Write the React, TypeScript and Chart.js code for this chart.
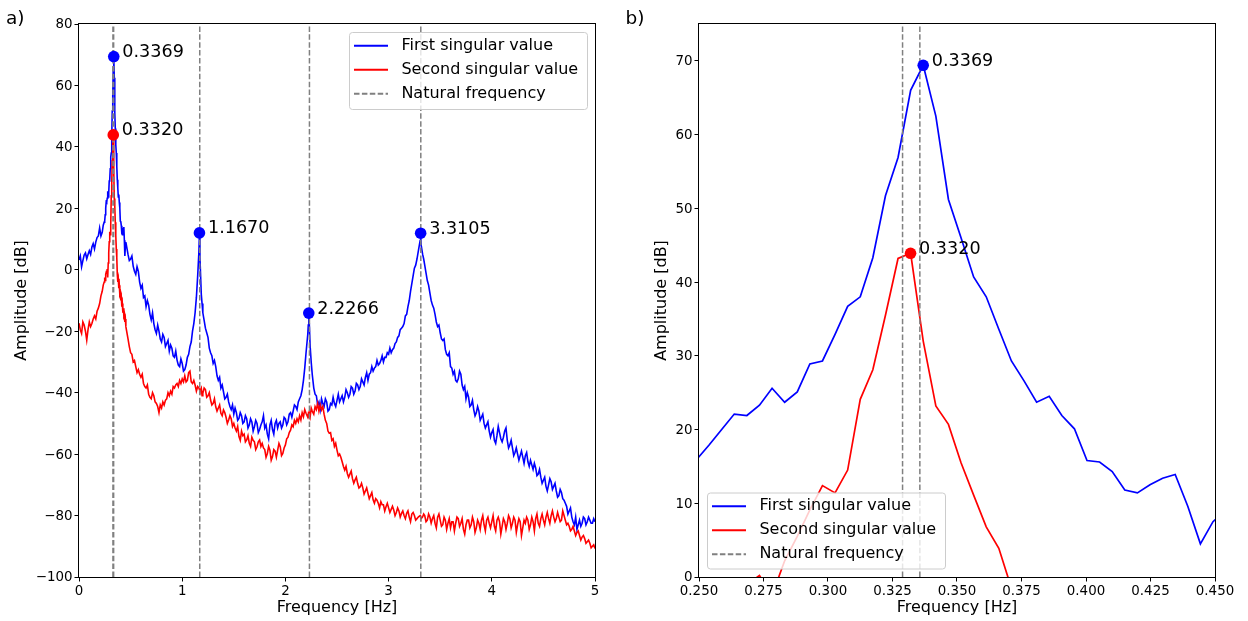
import React, { useEffect, useRef } from 'react';
import { Chart, registerables } from 'chart.js';

Chart.register(...registerables);

const FAMILY = "'DejaVu Sans', 'Liberation Sans', sans-serif";
const BLUE = '#0000ff';
const RED = '#ff0000';
const GRAY = '#808080';

// ---- data (frequency [Hz], amplitude [dB]) ----
const SV1_LOW = [[0, 3.2], [0.0125, 4.5], [0.025, 1.0], [0.0375, 3.0], [0.05, 4.8], [0.0625, 5.5], [0.075, 3.6], [0.0875, 5.0], [0.1, 6.2], [0.1125, 5.0], [0.125, 7.4], [0.1375, 8.5], [0.15, 6.8], [0.1625, 9.0], [0.175, 10.5], [0.1875, 11.0], [0.2, 13.6], [0.2125, 11.0], [0.225, 12.2], [0.235, 14.5]];
const SV2_LOW = [[0, -17.4], [0.0125, -19.5], [0.025, -20.7], [0.0375, -17.0], [0.05, -18.0], [0.0625, -20.0], [0.075, -22.9], [0.0875, -19.5], [0.1, -17.0], [0.1125, -18.5], [0.125, -17.5], [0.1375, -16.0], [0.15, -15.0], [0.1625, -16.0], [0.175, -13.5], [0.1875, -12.5], [0.2, -11.0], [0.2125, -8.5], [0.225, -7.0], [0.235, -5.0]];

const ZOOM_FREQ = [0.24414, 0.24902, 0.25391, 0.25879, 0.26367, 0.26855, 0.27344, 0.27832, 0.2832, 0.28809, 0.29297, 0.29785, 0.30273, 0.30762, 0.3125, 0.31738, 0.32227, 0.32715, 0.33203, 0.33691, 0.3418, 0.34668, 0.35156, 0.35645, 0.36133, 0.36621, 0.37109, 0.37598, 0.38086, 0.38574, 0.39063, 0.39551, 0.40039, 0.40527, 0.41016, 0.41504, 0.41992, 0.4248, 0.42969, 0.43457, 0.43945, 0.44434, 0.44922, 0.4541];
const SV1_ZOOM = [15.5, 15.9, 17.9, 20.0, 22.1, 21.9, 23.3, 25.6, 23.7, 25.1, 28.9, 29.3, 32.9, 36.7, 38.0, 43.3, 51.7, 56.9, 66.0, 69.4, 62.5, 51.2, 46.0, 40.7, 38.0, 33.6, 29.3, 26.6, 23.7, 24.5, 21.9, 20.1, 15.8, 15.6, 14.3, 11.8, 11.4, 12.5, 13.4, 13.9, 9.6, 4.5, 7.5, 9.0];
const SV2_ZOOM = [-4.0, -2.5, -3.5, -1.5, -0.8, -1.0, 0.2, -2.5, 2.2, 5.5, 9.1, 12.4, 11.4, 14.5, 24.1, 28.1, 35.5, 43.2, 43.9, 32.0, 23.2, 20.7, 15.5, 11.1, 6.8, 3.9, -1.5, -4.0, -3.0, -6.0, -5.0, -8.0, -7.5, -10.0, -9.0, -12.0, -11.0, -14.0, -12.5, -15.0, -14.5, -17.0, -16.0, -18.5];

const SV1_HIGH = [[0.475, 5.0], [0.4875, 3.0], [0.5, 3.5], [0.5125, 4.5], [0.525, 1.2], [0.5375, -0.5], [0.55, -1.5], [0.5625, 1.0], [0.575, -0.5], [0.5875, -4.0], [0.6, -6.0], [0.6125, -5.0], [0.625, -9.0], [0.6375, -8.5], [0.65, -12.0], [0.6625, -10.0], [0.675, -11.5], [0.6875, -14.5], [0.7, -16.3], [0.7125, -14.0], [0.725, -17.5], [0.7375, -19.5], [0.75, -20.7], [0.7625, -18.0], [0.775, -20.0], [0.7875, -22.5], [0.8, -23.5], [0.8125, -21.0], [0.825, -22.0], [0.8375, -25.0], [0.85, -24.0], [0.8625, -23.0], [0.875, -26.5], [0.8875, -24.5], [0.9, -25.5], [0.9125, -28.0], [0.925, -28.5], [0.9375, -26.5], [0.95, -29.4], [0.9625, -31.0], [0.975, -31.5], [0.9875, -29.0], [1.0, -30.5], [1.0125, -33.0], [1.025, -32.5], [1.0375, -31.0], [1.05, -28.5], [1.0625, -27.5], [1.075, -25.0], [1.0875, -23.5], [1.1, -20.0], [1.1125, -17.5], [1.125, -14.0], [1.1375, -9.0], [1.15, -2.0], [1.1621, 6.0], [1.167, 12.0], [1.1719, 4.0], [1.185, -8.0], [1.1925, -11.0], [1.2, -14.0], [1.2125, -16.5], [1.225, -19.0], [1.2375, -20.5], [1.25, -22.0], [1.2625, -25.5], [1.275, -27.0], [1.2875, -28.0], [1.3, -30.5], [1.3125, -29.5], [1.325, -31.5], [1.3375, -34.5], [1.35, -36.0], [1.3625, -35.0], [1.375, -38.5], [1.3875, -37.5], [1.4, -39.7], [1.4125, -42.0], [1.425, -41.5], [1.4375, -40.5], [1.45, -43.0], [1.4625, -44.5], [1.475, -45.5], [1.4875, -44.0], [1.5, -47.0], [1.5125, -45.0], [1.525, -46.5], [1.5375, -49.0], [1.55, -48.4], [1.5625, -46.5], [1.575, -47.5], [1.5875, -50.0], [1.6, -49.5], [1.6125, -47.5], [1.625, -48.5], [1.6375, -51.5], [1.65, -50.5], [1.6625, -48.5], [1.675, -49.5], [1.6875, -52.5], [1.7, -51.0], [1.7125, -49.0], [1.725, -50.0], [1.7375, -53.0], [1.75, -52.0], [1.7625, -50.5], [1.775, -49.5], [1.7875, -47.5], [1.8, -51.5], [1.8125, -50.5], [1.825, -53.5], [1.8375, -55.0], [1.85, -50.5], [1.8625, -49.0], [1.875, -52.0], [1.8875, -53.5], [1.9, -50.0], [1.9125, -49.0], [1.925, -51.5], [1.9375, -50.0], [1.95, -49.5], [1.9625, -51.5], [1.975, -50.5], [1.9875, -48.0], [2.0, -48.5], [2.0125, -50.5], [2.025, -49.5], [2.0375, -47.0], [2.05, -46.5], [2.0625, -48.0], [2.075, -46.0], [2.0875, -44.0], [2.1, -44.5], [2.1125, -45.5], [2.125, -43.0], [2.1375, -42.0], [2.15, -41.0], [2.1625, -39.0], [2.175, -36.0], [2.1875, -32.0], [2.2, -27.0], [2.2168, -21.0], [2.2217, -18.0], [2.2266, -14.1], [2.2314, -17.5], [2.24, -25.0], [2.25, -30.0], [2.26, -34.0], [2.275, -38.5], [2.2875, -40.5], [2.3, -41.0], [2.3125, -44.0], [2.325, -43.0], [2.3375, -45.5], [2.35, -42.0], [2.3625, -43.5], [2.375, -44.5], [2.3875, -42.0], [2.4, -43.0], [2.4125, -46.0], [2.425, -45.5], [2.4375, -43.5], [2.45, -44.0], [2.4625, -41.5], [2.475, -43.5], [2.4875, -44.5], [2.5, -42.5], [2.5125, -40.5], [2.525, -43.0], [2.5375, -42.0], [2.55, -41.0], [2.5625, -43.0], [2.575, -41.5], [2.5875, -39.0], [2.6, -40.0], [2.6125, -41.5], [2.625, -40.5], [2.6375, -38.0], [2.65, -38.5], [2.6625, -40.5], [2.675, -39.5], [2.6875, -37.0], [2.7, -37.5], [2.7125, -39.0], [2.725, -38.0], [2.7375, -35.5], [2.75, -36.5], [2.7625, -37.5], [2.775, -35.0], [2.7875, -33.5], [2.8, -36.0], [2.8125, -34.0], [2.825, -33.5], [2.8375, -31.5], [2.85, -33.0], [2.8625, -32.0], [2.875, -31.5], [2.8875, -29.5], [2.9, -31.0], [2.9125, -30.5], [2.925, -29.5], [2.9375, -28.0], [2.95, -30.0], [2.9625, -28.5], [2.975, -28.5], [2.9875, -27.0], [3.0, -27.5], [3.0125, -25.5], [3.025, -27.0], [3.0375, -26.0], [3.05, -25.5], [3.0625, -24.0], [3.075, -23.5], [3.0875, -22.0], [3.1, -21.5], [3.1125, -19.5], [3.125, -19.0], [3.1375, -18.5], [3.15, -17.5], [3.1625, -15.0], [3.175, -14.5], [3.1875, -12.0], [3.2, -10.0], [3.2125, -7.0], [3.225, -4.5], [3.2375, -2.0], [3.25, 0.5], [3.2625, 1.5], [3.275, 3.5], [3.29, 6.5], [3.3057, 9.5], [3.3105, 11.9], [3.3154, 8.0], [3.33, 5.0], [3.34, 3.5], [3.35, 1.5], [3.3625, -1.0], [3.375, -3.5], [3.3875, -5.0], [3.4, -7.5], [3.4125, -10.0], [3.425, -11.5], [3.4375, -12.5], [3.45, -14.5], [3.4625, -17.0], [3.475, -18.5], [3.4875, -18.0], [3.5, -20.5], [3.5125, -22.5], [3.525, -23.0], [3.5375, -22.5], [3.55, -26.0], [3.5625, -27.5], [3.575, -28.0], [3.5875, -27.0], [3.6, -31.5], [3.6125, -32.0], [3.625, -34.0], [3.6375, -33.0], [3.65, -36.0], [3.6625, -36.5], [3.675, -35.5], [3.6875, -33.0], [3.7, -34.0], [3.7125, -37.5], [3.725, -39.0], [3.7375, -38.0], [3.75, -42.0], [3.7625, -40.0], [3.775, -41.5], [3.7875, -44.5], [3.8, -44.0], [3.8125, -42.5], [3.825, -45.5], [3.8375, -47.5], [3.85, -46.5], [3.8625, -44.5], [3.875, -46.0], [3.8875, -49.0], [3.9, -48.0], [3.9125, -47.0], [3.925, -50.0], [3.9375, -51.5], [3.95, -50.5], [3.9625, -49.5], [3.975, -52.5], [3.9875, -54.5], [4.0, -53.0], [4.0125, -52.0], [4.025, -55.5], [4.0375, -56.5], [4.05, -54.0], [4.0625, -51.0], [4.075, -53.0], [4.0875, -55.0], [4.1, -56.0], [4.1125, -54.5], [4.125, -52.5], [4.1375, -51.5], [4.15, -55.5], [4.1625, -58.0], [4.175, -57.0], [4.1875, -55.5], [4.2, -58.0], [4.2125, -60.5], [4.225, -59.5], [4.2375, -58.0], [4.25, -60.0], [4.2625, -62.0], [4.275, -60.5], [4.2875, -59.0], [4.3, -61.0], [4.3125, -63.0], [4.325, -60.5], [4.3375, -59.5], [4.35, -62.5], [4.3625, -64.0], [4.375, -62.0], [4.3875, -63.5], [4.4, -65.0], [4.4125, -63.0], [4.425, -64.5], [4.4375, -67.0], [4.45, -66.5], [4.4625, -65.0], [4.475, -67.5], [4.4875, -69.5], [4.5, -68.5], [4.5125, -67.5], [4.525, -70.5], [4.5375, -72.0], [4.55, -70.0], [4.5625, -68.0], [4.575, -69.0], [4.5875, -71.5], [4.6, -70.5], [4.6125, -69.5], [4.625, -72.0], [4.6375, -74.0], [4.65, -73.5], [4.6625, -71.5], [4.675, -72.5], [4.6875, -74.5], [4.7, -75.0], [4.7125, -76.0], [4.725, -77.0], [4.7375, -79.5], [4.75, -78.5], [4.7625, -77.5], [4.775, -80.5], [4.7875, -82.0], [4.8, -83.0], [4.8125, -80.5], [4.825, -84.5], [4.8375, -83.0], [4.85, -81.5], [4.8625, -83.5], [4.875, -82.5], [4.8875, -80.5], [4.9, -81.0], [4.9125, -83.0], [4.925, -82.0], [4.9375, -80.5], [4.95, -81.5], [4.9625, -82.5], [4.975, -82.5], [4.9875, -81.0], [5.0, -82.0]];

const SV2_HIGH = [[0.475, -22.5], [0.4875, -25.0], [0.5, -27.0], [0.5125, -27.5], [0.525, -30.0], [0.5375, -29.5], [0.55, -31.5], [0.5625, -33.5], [0.575, -32.5], [0.5875, -34.0], [0.6, -35.0], [0.6125, -34.0], [0.625, -37.0], [0.6375, -38.0], [0.65, -38.5], [0.6625, -37.5], [0.675, -40.5], [0.6875, -41.5], [0.7, -42.0], [0.7125, -40.0], [0.725, -41.0], [0.7375, -43.0], [0.75, -43.5], [0.7625, -44.5], [0.775, -46.5], [0.7875, -44.0], [0.8, -45.0], [0.8125, -43.0], [0.825, -44.0], [0.8375, -42.5], [0.85, -42.0], [0.8625, -40.0], [0.875, -41.0], [0.8875, -39.5], [0.9, -40.5], [0.9125, -38.0], [0.925, -38.5], [0.9375, -37.5], [0.95, -37.0], [0.9625, -38.0], [0.975, -36.0], [0.9875, -37.0], [1.0, -35.5], [1.0125, -36.5], [1.025, -34.5], [1.0375, -36.5], [1.05, -36.0], [1.0625, -33.5], [1.075, -33.0], [1.0875, -36.5], [1.1, -37.0], [1.1125, -36.0], [1.125, -37.5], [1.1375, -39.5], [1.15, -38.0], [1.1621, -38.5], [1.167, -39.0], [1.1719, -39.5], [1.185, -38.5], [1.1925, -41.0], [1.2, -40.2], [1.2125, -38.5], [1.225, -39.0], [1.2375, -41.5], [1.25, -41.0], [1.2625, -40.0], [1.275, -42.4], [1.2875, -44.0], [1.3, -43.5], [1.3125, -42.0], [1.325, -44.6], [1.3375, -46.0], [1.35, -45.0], [1.3625, -44.0], [1.375, -46.7], [1.3875, -47.5], [1.4, -45.6], [1.4125, -46.5], [1.425, -48.0], [1.4375, -50.0], [1.45, -48.9], [1.4625, -47.5], [1.475, -48.5], [1.4875, -51.0], [1.5, -50.0], [1.5125, -51.5], [1.525, -52.5], [1.5375, -51.0], [1.55, -54.3], [1.5625, -55.5], [1.575, -52.5], [1.5875, -54.0], [1.6, -53.5], [1.6125, -56.0], [1.625, -55.4], [1.6375, -54.0], [1.65, -56.5], [1.6625, -57.5], [1.675, -54.5], [1.6875, -55.5], [1.7, -56.0], [1.7125, -58.5], [1.725, -57.6], [1.7375, -56.0], [1.75, -55.4], [1.7625, -57.5], [1.775, -56.5], [1.7875, -58.0], [1.8, -58.5], [1.8125, -61.0], [1.825, -59.8], [1.8375, -57.5], [1.85, -58.7], [1.8625, -62.0], [1.875, -60.8], [1.8875, -58.5], [1.9, -59.0], [1.9125, -61.0], [1.925, -58.7], [1.9375, -56.5], [1.95, -57.6], [1.9625, -60.5], [1.975, -59.8], [1.9875, -58.0], [2.0, -57.0], [2.0125, -55.0], [2.025, -54.5], [2.0375, -53.0], [2.05, -52.2], [2.0625, -50.5], [2.075, -51.1], [2.0875, -49.0], [2.1, -50.0], [2.1125, -48.5], [2.125, -49.5], [2.1375, -47.5], [2.15, -48.9], [2.1625, -46.5], [2.175, -47.8], [2.1875, -45.5], [2.2, -46.7], [2.2168, -48.0], [2.2217, -47.0], [2.2266, -47.5], [2.2314, -46.5], [2.24, -47.8], [2.25, -45.0], [2.26, -46.0], [2.275, -47.0], [2.2875, -44.5], [2.3, -45.5], [2.3125, -43.5], [2.325, -46.0], [2.3375, -44.0], [2.35, -45.6], [2.3625, -44.5], [2.375, -47.0], [2.3875, -49.0], [2.4, -50.0], [2.4125, -52.5], [2.425, -53.2], [2.4375, -53.0], [2.45, -55.5], [2.4625, -55.0], [2.475, -57.5], [2.4875, -56.5], [2.5, -58.7], [2.5125, -60.5], [2.525, -60.0], [2.5375, -61.0], [2.55, -62.5], [2.5625, -64.0], [2.575, -65.2], [2.5875, -64.0], [2.6, -66.3], [2.6125, -67.5], [2.625, -66.5], [2.6375, -65.5], [2.65, -68.0], [2.6625, -69.5], [2.675, -68.4], [2.6875, -67.5], [2.7, -69.5], [2.7125, -71.0], [2.725, -70.6], [2.7375, -69.5], [2.75, -71.0], [2.7625, -73.0], [2.775, -72.0], [2.7875, -71.0], [2.8, -72.8], [2.8125, -74.5], [2.825, -73.5], [2.8375, -72.5], [2.85, -74.9], [2.8625, -76.0], [2.875, -74.5], [2.8875, -75.0], [2.9, -76.0], [2.9125, -77.5], [2.925, -75.5], [2.9375, -76.5], [2.95, -76.5], [2.9625, -78.5], [2.975, -77.1], [2.9875, -76.0], [3.0, -77.5], [3.0125, -79.0], [3.025, -78.0], [3.0375, -77.0], [3.05, -78.2], [3.0625, -80.0], [3.075, -79.0], [3.0875, -77.5], [3.1, -78.5], [3.1125, -80.5], [3.125, -79.3], [3.1375, -78.5], [3.15, -80.0], [3.1625, -81.0], [3.175, -79.3], [3.1875, -78.5], [3.2, -80.5], [3.2125, -82.0], [3.225, -79.5], [3.2375, -79.0], [3.25, -80.0], [3.2625, -81.5], [3.275, -81.0], [3.29, -80.4], [3.3057, -80.0], [3.3105, -80.5], [3.3154, -81.0], [3.33, -80.4], [3.34, -79.5], [3.35, -80.0], [3.3625, -82.0], [3.375, -81.5], [3.3875, -79.5], [3.4, -80.5], [3.4125, -82.5], [3.425, -81.0], [3.4375, -80.0], [3.45, -82.5], [3.4625, -84.0], [3.475, -80.5], [3.4875, -79.5], [3.5, -81.5], [3.5125, -83.5], [3.525, -83.0], [3.5375, -80.5], [3.55, -81.5], [3.5625, -84.5], [3.575, -82.5], [3.5875, -81.0], [3.6, -84.0], [3.6125, -82.0], [3.625, -82.0], [3.6375, -85.0], [3.65, -82.5], [3.6625, -80.5], [3.675, -81.0], [3.6875, -83.5], [3.7, -82.5], [3.7125, -81.0], [3.725, -84.5], [3.7375, -86.0], [3.75, -83.0], [3.7625, -81.5], [3.775, -81.5], [3.7875, -84.0], [3.8, -83.0], [3.8125, -80.5], [3.825, -82.0], [3.8375, -85.5], [3.85, -84.0], [3.8625, -81.5], [3.875, -82.5], [3.8875, -84.5], [3.9, -81.5], [3.9125, -80.0], [3.925, -83.0], [3.9375, -85.0], [3.95, -81.5], [3.9625, -80.5], [3.975, -82.5], [3.9875, -84.0], [4.0, -82.0], [4.0125, -80.0], [4.025, -83.5], [4.0375, -85.0], [4.05, -81.5], [4.0625, -80.5], [4.075, -82.0], [4.0875, -86.0], [4.1, -83.5], [4.1125, -81.0], [4.125, -82.0], [4.1375, -84.5], [4.15, -82.5], [4.1625, -80.0], [4.175, -81.0], [4.1875, -84.0], [4.2, -82.5], [4.2125, -80.5], [4.225, -81.5], [4.2375, -85.5], [4.25, -83.0], [4.2625, -81.0], [4.275, -82.0], [4.2875, -86.5], [4.3, -84.0], [4.3125, -81.5], [4.325, -82.5], [4.3375, -80.5], [4.35, -81.5], [4.3625, -84.5], [4.375, -83.0], [4.3875, -80.5], [4.4, -82.0], [4.4125, -85.0], [4.425, -81.0], [4.4375, -79.5], [4.45, -82.5], [4.4625, -83.5], [4.475, -81.0], [4.4875, -79.5], [4.5, -81.5], [4.5125, -83.0], [4.525, -80.5], [4.5375, -79.0], [4.55, -81.0], [4.5625, -82.5], [4.575, -80.0], [4.5875, -78.5], [4.6, -80.5], [4.6125, -82.0], [4.625, -81.0], [4.6375, -79.0], [4.65, -80.5], [4.6625, -82.0], [4.675, -81.5], [4.6875, -78.5], [4.7, -80.0], [4.7125, -81.5], [4.725, -83.0], [4.7375, -82.5], [4.75, -83.5], [4.7625, -85.0], [4.775, -84.5], [4.7875, -83.5], [4.8, -85.0], [4.8125, -86.5], [4.825, -85.5], [4.8375, -85.0], [4.85, -86.5], [4.8625, -88.0], [4.875, -87.0], [4.8875, -86.5], [4.9, -87.5], [4.9125, -89.0], [4.925, -88.5], [4.9375, -88.0], [4.95, -89.0], [4.9625, -90.5], [4.975, -90.0], [4.9875, -89.5], [5.0, -90.7]];

const PEAKS_SV1 = [[0.3369, 69.4], [1.167, 12.0], [2.2266, -14.1], [3.3105, 11.9]];
const PEAK_LABELS_SV1 = ['0.3369', '1.1670', '2.2266', '3.3105'];
const PEAKS_SV2 = [[0.332, 43.9]];
const PEAK_LABELS_SV2 = ['0.3320'];
const NATURAL_FREQ = [0.3289, 0.3356, 1.17, 2.233, 3.312];

const LEGEND_LABELS = ['First singular value', 'Second singular value', 'Natural frequency'];
const PANEL_LABELS = ['a)', 'b)'];
const X_TITLE = 'Frequency [Hz]';
const Y_TITLE = 'Amplitude [dB]';

// ---- helpers ----
const pairs = (list) => list.map(([x, y]) => ({ x, y }));
const zipped = (xs, ys) => xs.map((x, i) => ({ x, y: ys[i] }));
const vlines = (fs, lo, hi) => fs.flatMap((f) => [{ x: f, y: lo }, { x: f, y: hi }, { x: f, y: null }]);
const minus = (s) => String(s).replace('-', '\u2212');

function decorPlugin(cfg) {
  return {
    id: 'decor_' + cfg.key,
    afterDatasetsDraw(chart) {
      const { ctx } = chart;
      const xs = chart.scales.x;
      const ys = chart.scales.y;
      ctx.save();
      ctx.fillStyle = '#000';
      ctx.font = `17.6px ${FAMILY}`;
      ctx.textBaseline = 'alphabetic';
      ctx.textAlign = 'left';
      cfg.annotations.forEach(({ pts, labels }) => {
        pts.forEach(([f, v], i) => {
          const px = xs.getPixelForValue(f);
          const py = ys.getPixelForValue(v);
          ctx.fillText(labels[i], px + 8.5, py + 0.5);
        });
      });
      ctx.restore();
    },
    afterDraw(chart) {
      const { ctx, chartArea } = chart;
      ctx.save();
      ctx.strokeStyle = '#000';
      ctx.lineWidth = 1;
      const l = Math.round(chartArea.left) - 0.5;
      const t = Math.round(chartArea.top) - 0.5;
      const r = Math.round(chartArea.right) + 0.5;
      const b = Math.round(chartArea.bottom) + 0.5;
      ctx.strokeRect(l, t, r - l, b - t);
      const lg = cfg.legend;
      ctx.beginPath();
      ctx.roundRect(lg.x + 0.5, lg.y + 0.5, lg.w, lg.h, 3);
      ctx.fillStyle = 'rgba(255,255,255,0.8)';
      ctx.fill();
      ctx.strokeStyle = '#cccccc';
      ctx.lineWidth = 1;
      ctx.stroke();
      const styles = [
        { color: BLUE, dash: [] },
        { color: RED, dash: [] },
        { color: GRAY, dash: [5.5, 2.4] },
      ];
      styles.forEach((s, i) => {
        const yy = lg.y + 13.7 + i * 24;
        ctx.beginPath();
        ctx.setLineDash(s.dash);
        ctx.strokeStyle = s.color;
        ctx.lineWidth = 2;
        ctx.moveTo(lg.x + 5, yy);
        ctx.lineTo(lg.x + 39, yy);
        ctx.stroke();
        ctx.setLineDash([]);
        ctx.fillStyle = '#000';
        ctx.font = `16px ${FAMILY}`;
        ctx.textBaseline = 'middle';
        ctx.textAlign = 'left';
        ctx.fillText(LEGEND_LABELS[i], lg.x + 52.4, yy);
      });
      ctx.fillStyle = '#000';
      ctx.font = `18.5px ${FAMILY}`;
      ctx.textBaseline = 'alphabetic';
      ctx.fillText(cfg.panelLabel, cfg.panelX, 23.5);
      ctx.restore();
    },
  };
}

function buildConfig(opts) {
  const tickFont = { family: FAMILY, size: 13.4 };
  const titleFont = { family: FAMILY, size: 16 };
  return {
    type: 'line',
    data: {
      datasets: [
        {
          data: pairs(opts.peaksRed),
          showLine: false,
          pointRadius: 5.8,
          pointBackgroundColor: RED,
          pointBorderWidth: 0,
          borderColor: RED,
        },
        {
          data: pairs(opts.peaksBlue),
          showLine: false,
          pointRadius: 5.8,
          pointBackgroundColor: BLUE,
          pointBorderWidth: 0,
          borderColor: BLUE,
        },
        {
          data: vlines(NATURAL_FREQ, opts.yMin, opts.yMax),
          borderColor: GRAY,
          borderWidth: 1.5,
          borderDash: [5.5, 2.4],
          pointRadius: 0,
          spanGaps: false,
          clip: 0,
        },
        {
          data: opts.red,
          borderColor: RED,
          borderWidth: opts.lw,
          pointRadius: 0,
          tension: 0,
          clip: 0,
        },
        {
          data: opts.blue,
          borderColor: BLUE,
          borderWidth: opts.lw,
          pointRadius: 0,
          tension: 0,
          clip: 0,
        },
      ],
    },
    options: {
      animation: false,
      responsive: false,
      maintainAspectRatio: false,
      devicePixelRatio: 1,
      events: [],
      layout: { padding: { left: 0, top: 24, right: opts.padRight, bottom: 0 } },
      plugins: { legend: { display: false }, tooltip: { enabled: false } },
      scales: {
        x: {
          type: 'linear',
          min: opts.xMin,
          max: opts.xMax,
          afterFit: (s) => { s.height = 44; },
          afterBuildTicks: (s) => {
            s.ticks = s.ticks.filter((t) => t.value >= opts.xMin - 1e-9 && t.value <= opts.xMax + 1e-9);
          },
          ticks: {
            stepSize: opts.xStep,
            autoSkip: false,
            maxRotation: 0,
            color: '#000',
            font: tickFont,
            padding: 2,
            callback: (v) => opts.xFmt(v),
          },
          grid: { display: true, drawOnChartArea: false, drawTicks: true, tickLength: 4.5, color: '#000', lineWidth: 1 },
          border: { display: false },
          title: { display: true, text: X_TITLE, color: '#000', font: titleFont, padding: { top: 0, bottom: 3.5 } },
        },
        y: {
          type: 'linear',
          min: opts.yMin,
          max: opts.yMax,
          afterFit: (s) => { s.width = opts.yWidth; },
          afterBuildTicks: (s) => {
            s.ticks = s.ticks.filter((t) => Math.abs(t.value % opts.yStep) < 1e-9);
          },
          ticks: {
            stepSize: opts.yStep,
            autoSkip: false,
            color: '#000',
            font: tickFont,
            padding: 2,
            labelOffset: 1,
            callback: (v) => minus(v),
          },
          grid: { display: true, drawOnChartArea: false, drawTicks: true, tickLength: 4.5, color: '#000', lineWidth: 1 },
          border: { display: false },
          title: { display: true, text: Y_TITLE, color: '#000', font: titleFont, padding: { top: opts.yTitlePad, bottom: 0 } },
        },
      },
    },
    plugins: [decorPlugin(opts.decor)],
  };
}

export default function App() {
  const leftRef = useRef(null);
  const rightRef = useRef(null);

  useEffect(() => {
    const blueFull = [...pairs(SV1_LOW), ...zipped(ZOOM_FREQ, SV1_ZOOM), ...pairs(SV1_HIGH)];
    const redFull = [...pairs(SV2_LOW), ...zipped(ZOOM_FREQ, SV2_ZOOM), ...pairs(SV2_HIGH)];

    const left = new Chart(leftRef.current, buildConfig({
      blue: blueFull,
      red: redFull,
      peaksBlue: PEAKS_SV1,
      peaksRed: PEAKS_SV2,
      xMin: 0, xMax: 5, xStep: 1,
      yMin: -100, yMax: 80, yStep: 20,
      xFmt: (v) => String(v),
      yWidth: 79,
      padRight: 29,
      yTitlePad: 12.3,
      lw: 1.6,
      decor: {
        key: 'left',
        annotations: [
          { pts: PEAKS_SV1, labels: PEAK_LABELS_SV1 },
          { pts: PEAKS_SV2, labels: PEAK_LABELS_SV2 },
        ],
        legend: { x: 349, y: 32, w: 238, h: 77 },
        panelLabel: PANEL_LABELS[0],
        panelX: 6,
      },
    }));

    const right = new Chart(rightRef.current, buildConfig({
      blue: zipped(ZOOM_FREQ, SV1_ZOOM),
      red: zipped(ZOOM_FREQ, SV2_ZOOM),
      peaksBlue: PEAKS_SV1.slice(0, 1),
      peaksRed: PEAKS_SV2,
      xMin: 0.25, xMax: 0.45, xStep: 0.025,
      yMin: 0, yMax: 75, yStep: 10,
      xFmt: (v) => Number(v).toFixed(3),
      yWidth: 75,
      padRight: 33,
      yTitlePad: 28.3,
      lw: 1.7,
      decor: {
        key: 'right',
        annotations: [
          { pts: PEAKS_SV1.slice(0, 1), labels: PEAK_LABELS_SV1.slice(0, 1) },
          { pts: PEAKS_SV2, labels: PEAK_LABELS_SV2 },
        ],
        legend: { x: 83, y: 492.5, w: 238, h: 76 },
        panelLabel: PANEL_LABELS[1],
        panelX: 1.5,
      },
    }));

    return () => {
      left.destroy();
      right.destroy();
    };
  }, []);

  return (
    <div style={{ position: 'fixed', left: 0, top: 0, width: 1248, height: 621, background: '#fff' }}>
      <canvas ref={leftRef} width={624} height={621} style={{ position: 'absolute', left: 0, top: 0, width: 624, height: 621 }} />
      <canvas ref={rightRef} width={624} height={621} style={{ position: 'absolute', left: 624, top: 0, width: 624, height: 621 }} />
    </div>
  );
}
